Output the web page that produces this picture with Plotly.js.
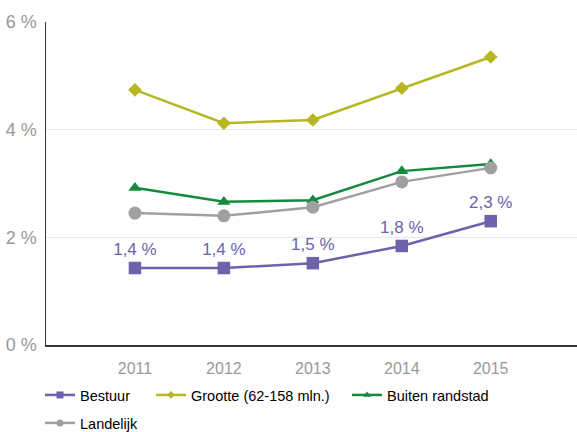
<!DOCTYPE html>
<html><head><meta charset="utf-8">
<script src="https://cdn.plot.ly/plotly-3.0.1.min.js"></script>
<style>body{margin:0;padding:0;}#chart{width:577px;height:432px;}</style>
</head><body><div id="chart"></div>
<script>
const years = ['2011','2012','2013','2014','2015'];
const bestuur = [1.43, 1.43, 1.52, 1.84, 2.30];
const bestuurLabels = ['1,4 %','1,4 %','1,5 %','1,8 %','2,3 %'];
const grootte = [4.74, 4.12, 4.18, 4.77, 5.35];
const buiten = [2.92, 2.66, 2.69, 3.23, 3.36];
const landelijk = [2.45, 2.40, 2.56, 3.03, 3.29];
const yTicks = [0, 2, 4, 6];
const yTickLabels = ['0 %', '2 %', '4 %', '6 %'];

const series = [
  {name: 'Bestuur', y: bestuur, color: '#6d62ac', symbol: 'square', size: 12.5, lsize: 7},
  {name: 'Grootte (62-158 mln.)', y: grootte, color: '#b5b823', symbol: 'diamond', size: 10.5, lsize: 6},
  {name: 'Buiten randstad', y: buiten, color: '#138a3f', symbol: 'triangle-up', size: 11.5, lsize: 7},
  {name: 'Landelijk', y: landelijk, color: '#a0a0a0', symbol: 'circle', size: 13, lsize: 7}
];
// legend placement (pixels in the 577x432 page): left x, row centre y
const legendPos = [[40, 395], [151, 395], [347, 395], [40, 423]];

const traces = [];
series.forEach((s, i) => {
  const t = {x: years, y: s.y, name: s.name, type: 'scatter', mode: 'lines+markers',
    line: {color: s.color, width: 2.5}, marker: {symbol: s.symbol, size: s.size, color: s.color},
    showlegend: false, cliponaxis: false};
  if (i === 0) {
    t.mode = 'lines+markers+text';
    t.text = bestuurLabels;
    t.textposition = 'top center';
    t.textfont = {color: '#6d62ac', size: 17, family: 'Liberation Sans, Arial, sans-serif'};
  }
  traces.push(t);
});
series.forEach((s, i) => {
  traces.push({x: [null], y: [null], name: s.name, type: 'scatter', mode: 'lines+markers',
    line: {color: s.color, width: 2.5}, marker: {symbol: s.symbol, size: s.lsize, color: s.color},
    showlegend: true, legend: i === 0 ? 'legend' : 'legend' + (i + 1)});
});

const layout = {
  width: 577, height: 432,
  margin: {l: 46, r: 0, t: 22, b: 87},
  paper_bgcolor: '#ffffff', plot_bgcolor: '#ffffff',
  font: {family: 'Liberation Sans, Arial, sans-serif', color: '#999999'},
  showlegend: true,
  xaxis: {type: 'category', range: [-1, 4.97], showgrid: false, zeroline: false,
    showline: true, linecolor: '#333333', linewidth: 1.5, ticks: '', ticklabelstandoff: 8,
    tickfont: {size: 16, color: '#999999'}},
  yaxis: {range: [0, 6], tickmode: 'array', tickvals: yTicks, ticktext: yTickLabels, showgrid: true,
    gridcolor: '#e8e8e8', gridwidth: 1.5, zeroline: false, showline: true,
    linecolor: '#333333', linewidth: 1.5, ticks: '', ticklabelstandoff: 4,
    tickfont: {size: 18, color: '#999999'}}
};
legendPos.forEach((p, i) => {
  layout[i === 0 ? 'legend' : 'legend' + (i + 1)] = {
    orientation: 'h', xref: 'container', yref: 'container',
    x: p[0] / 577, y: 1 - p[1] / 432, xanchor: 'left', yanchor: 'middle',
    font: {size: 14.5, color: '#000000'}, itemwidth: 30, bgcolor: 'rgba(0,0,0,0)'
  };
});

Plotly.newPlot('chart', traces, layout, {displayModeBar: false, staticPlot: true});
</script></body></html>
